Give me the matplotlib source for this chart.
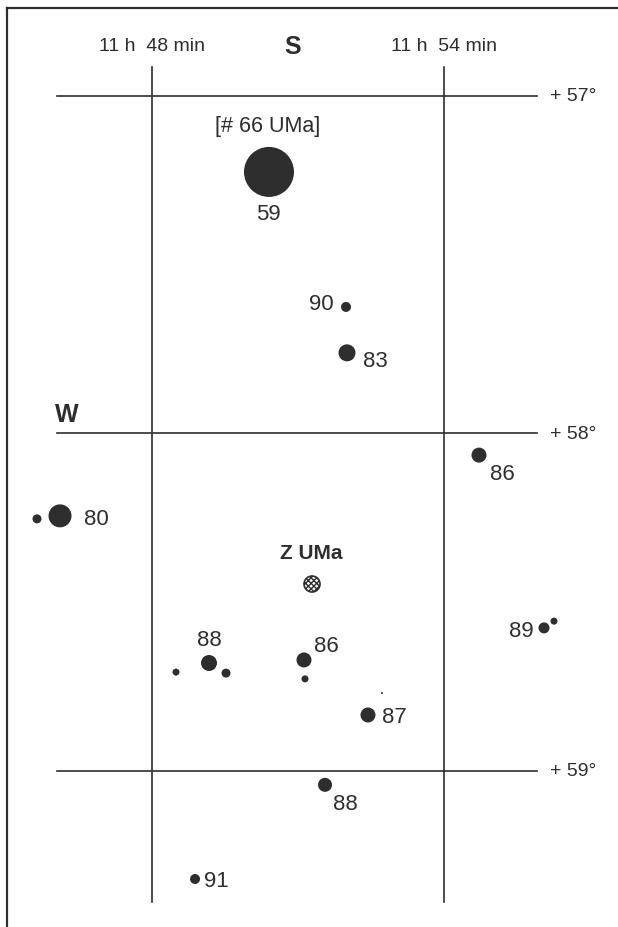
"""
Finder chart for Z UMa with comparison star magnitudes (tenths of mag).
"""

import matplotlib
matplotlib.use("Agg")
import matplotlib.pyplot as plt
from matplotlib.lines import Line2D

plt.rcParams["font.family"] = ["Liberation Sans", "DejaVu Sans"]

INK = "#2e2e2e"

# Chart grid: RA in minutes past 11 h, Dec in degrees
ra_lines = [48, 54]
ra_labels = ["11 h  48 min", "11 h  54 min"]
dec_lines = [57, 58, 59]
dec_labels = ["+ 57°", "+ 58°", "+ 59°"]

# Comparison stars (RA min past 11h, Dec deg, dot diameter px, label)
star_ra = [50.404, 51.986, 52.007, 54.719, 46.110, 45.637, 56.055, 56.260,
           49.171, 48.493, 49.521, 51.123, 51.144, 52.726, 52.438, 51.555, 48.884]
star_dec = [57.225, 57.625, 57.761, 58.064, 58.244, 58.253, 58.576, 58.556,
            58.680, 58.707, 58.710, 58.671, 58.727, 58.769, 58.834, 59.041, 59.320]
star_dot = [50, 10, 17, 15, 23, 9, 11, 7, 16, 7, 9, 15, 7, 2, 15, 14, 10]
star_label = ["59", "90", "83", "86", "80", "", "89", "", "88", "", "", "86", "",
              "", "87", "88", "91"]

# Variable star
var_ra, var_dec, var_name = 51.288, 58.446, "Z UMa"

# label offsets in pixels (dx right, dy up) and alignment, per label
label_pos = {
    0: (-1, -42, "center"),
    1: (-12, 3, "right"),
    2: (16, -8, "left"),
    3: (11, -18, "left"),
    4: (24, -3, "left"),
    6: (-10, -3, "right"),
    8: (0, 23, "center"),
    11: (10, 14, "left"),
    14: (14, -2, "left"),
    15: (8, -19, "left"),
    16: (9, -2, "left"),
}

W, H = 618, 928
fig = plt.figure(figsize=(W / 100, H / 100), dpi=100)
ax = fig.add_axes([0, 0, 1, 1])
px_per_min = 292 / 6.0
px_per_deg = 337.5
top_px = 97
ax.set_xlim(48 - 152 / px_per_min, 48 + (W - 152) / px_per_min)
ax.set_ylim(57 + (H - top_px) / px_per_deg, 57 - top_px / px_per_deg)
ax.axis("off")

# border (left and top only, as cropped)
fig.add_artist(Line2D([7 / W, 7 / W], [0, 1 - 9 / H], color=INK, lw=1.6))
fig.add_artist(Line2D([7 / W, 1], [1 - 9 / H, 1 - 9 / H], color=INK, lw=1.6))

# grid lines
x0 = 48 - 95 / px_per_min
x1 = 48 + 385 / px_per_min
for d, lab in zip(dec_lines, dec_labels):
    ax.plot([x0, x1], [d, d], color=INK, lw=1.2)
    ax.annotate(lab, (x1, d), xytext=(13, 0), textcoords="offset pixels",
                ha="left", va="center", fontsize=14, color=INK)
y0 = 57 - 29 / px_per_deg
y1 = 59 + 131 / px_per_deg
for r, lab in zip(ra_lines, ra_labels):
    ax.plot([r, r], [y0, y1], color=INK, lw=1.2)
    ax.annotate(lab, (r, y0), xytext=(0, 21), textcoords="offset pixels",
                ha="center", va="center", fontsize=14, color=INK)

# compass letters
ax.annotate("S", (51, 57), xytext=(-5, 50), textcoords="offset pixels",
            ha="center", va="center", fontsize=18, fontweight="bold", color=INK)
ax.annotate("W", (46, 58), xytext=(12, 19), textcoords="offset pixels",
            ha="center", va="center", fontsize=18, fontweight="bold", color=INK)

# stars
sizes = [(d * 0.72) ** 2 for d in star_dot]
ax.scatter(star_ra, star_dec, s=sizes, color=INK, edgecolors="none", zorder=3)

for i, lab in enumerate(star_label):
    if not lab:
        continue
    dx, dy, ha = label_pos[i]
    ax.annotate(lab, (star_ra[i], star_dec[i]), xytext=(dx, dy),
                textcoords="offset pixels", ha=ha, va="center",
                fontsize=16, color=INK)

ax.annotate("[# 66 UMa]", (star_ra[0], star_dec[0]), xytext=(-1, 46),
            textcoords="offset pixels", ha="center", va="center",
            fontsize=15.5, color=INK)

# variable star, hatched
ax.scatter([var_ra], [var_dec], s=(16 * 0.72) ** 2, facecolor="white",
           edgecolors=INK, linewidths=1.2, hatch="xxxxxx", zorder=3)
ax.annotate(var_name, (var_ra, var_dec), xytext=(-1, 32),
            textcoords="offset pixels", ha="center", va="center",
            fontsize=15, fontweight="bold", color=INK)

fig.savefig("out.png", dpi=100)
